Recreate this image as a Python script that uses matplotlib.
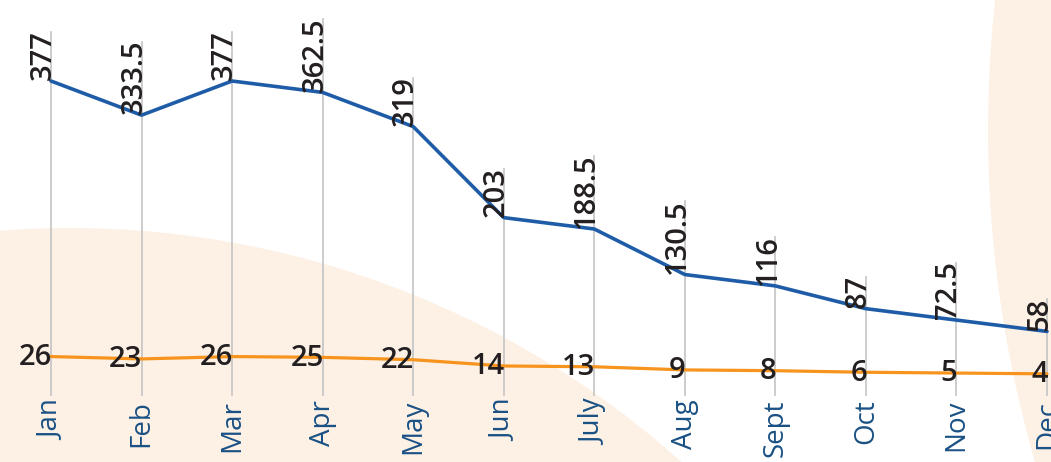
import numpy as np
import matplotlib.pyplot as plt
from matplotlib.patches import Circle

months = ['Jan', 'Feb', 'Mar', 'Apr', 'May', 'Jun', 'July', 'Aug', 'Sept', 'Oct', 'Nov', 'Dec']
blue_vals = [377, 333.5, 377, 362.5, 319, 203, 188.5, 130.5, 116, 87, 72.5, 58]
orange_vals = [26, 23, 26, 25, 22, 14, 13, 9, 8, 6, 5, 4]
blue_lbls = ['377', '333.5', '377', '362.5', '319', '203', '188.5', '130.5', '116', '87', '72.5', '58']

plt.rcParams['font.family'] = ['Open Sans', 'DejaVu Sans']

W, H = 1051, 462
fig = plt.figure(figsize=(W / 100, H / 100), dpi=100)

# background blobs, in pixel units
bg = fig.add_axes([0, 0, 1, 1])
bg.set_xlim(0, W); bg.set_ylim(H, 0); bg.axis('off')
bg.add_patch(Circle((70, 228 + 916), 916, color='#fdf1e6', lw=0))
bg.add_patch(Circle((2184, 130), 1196, color='#fdf1e6', lw=0))

ax = fig.add_axes([0, 0, 1, 1])
ax.patch.set_alpha(0)
ax.axis('off')
x = np.arange(len(months))
ax.set_xlim(-0.5633, 11.0442)
ax.set_ylim(-108.3, 480.2)

ax.plot(x, blue_vals, color='#1f5ca8', lw=2.6, solid_capstyle='round', zorder=3)
ax.plot(x, orange_vals, color='#f7941d', lw=2.3, solid_capstyle='round', zorder=3)

tops = []
for i in x:
    t = ax.text(i, blue_vals[i] + 1, blue_lbls[i], rotation=90, rotation_mode='anchor',
                ha='left', va='baseline', fontsize=21, color='#231f20',
                fontweight='semibold', zorder=4)
    tops.append(t)
    ax.text(i + 0.01, orange_vals[i] - 1, str(orange_vals[i]), ha='right', va='center',
            fontsize=21, color='#231f20', fontweight='semibold', zorder=4)
    ax.text(i, -29, months[i], rotation=90, ha='center', va='top',
            fontsize=20, color='#1a5184', zorder=4)

fig.canvas.draw()
r = fig.canvas.get_renderer()
inv = ax.transData.inverted()
for i, t in enumerate(tops):
    bb = t.get_window_extent(r)
    ytop = inv.transform((0, bb.y1 - 2))[1]
    ax.plot([i, i], [-23, ytop], color='#c4c4c4', lw=1.2, zorder=2)

fig.savefig('out.png', dpi=100)
